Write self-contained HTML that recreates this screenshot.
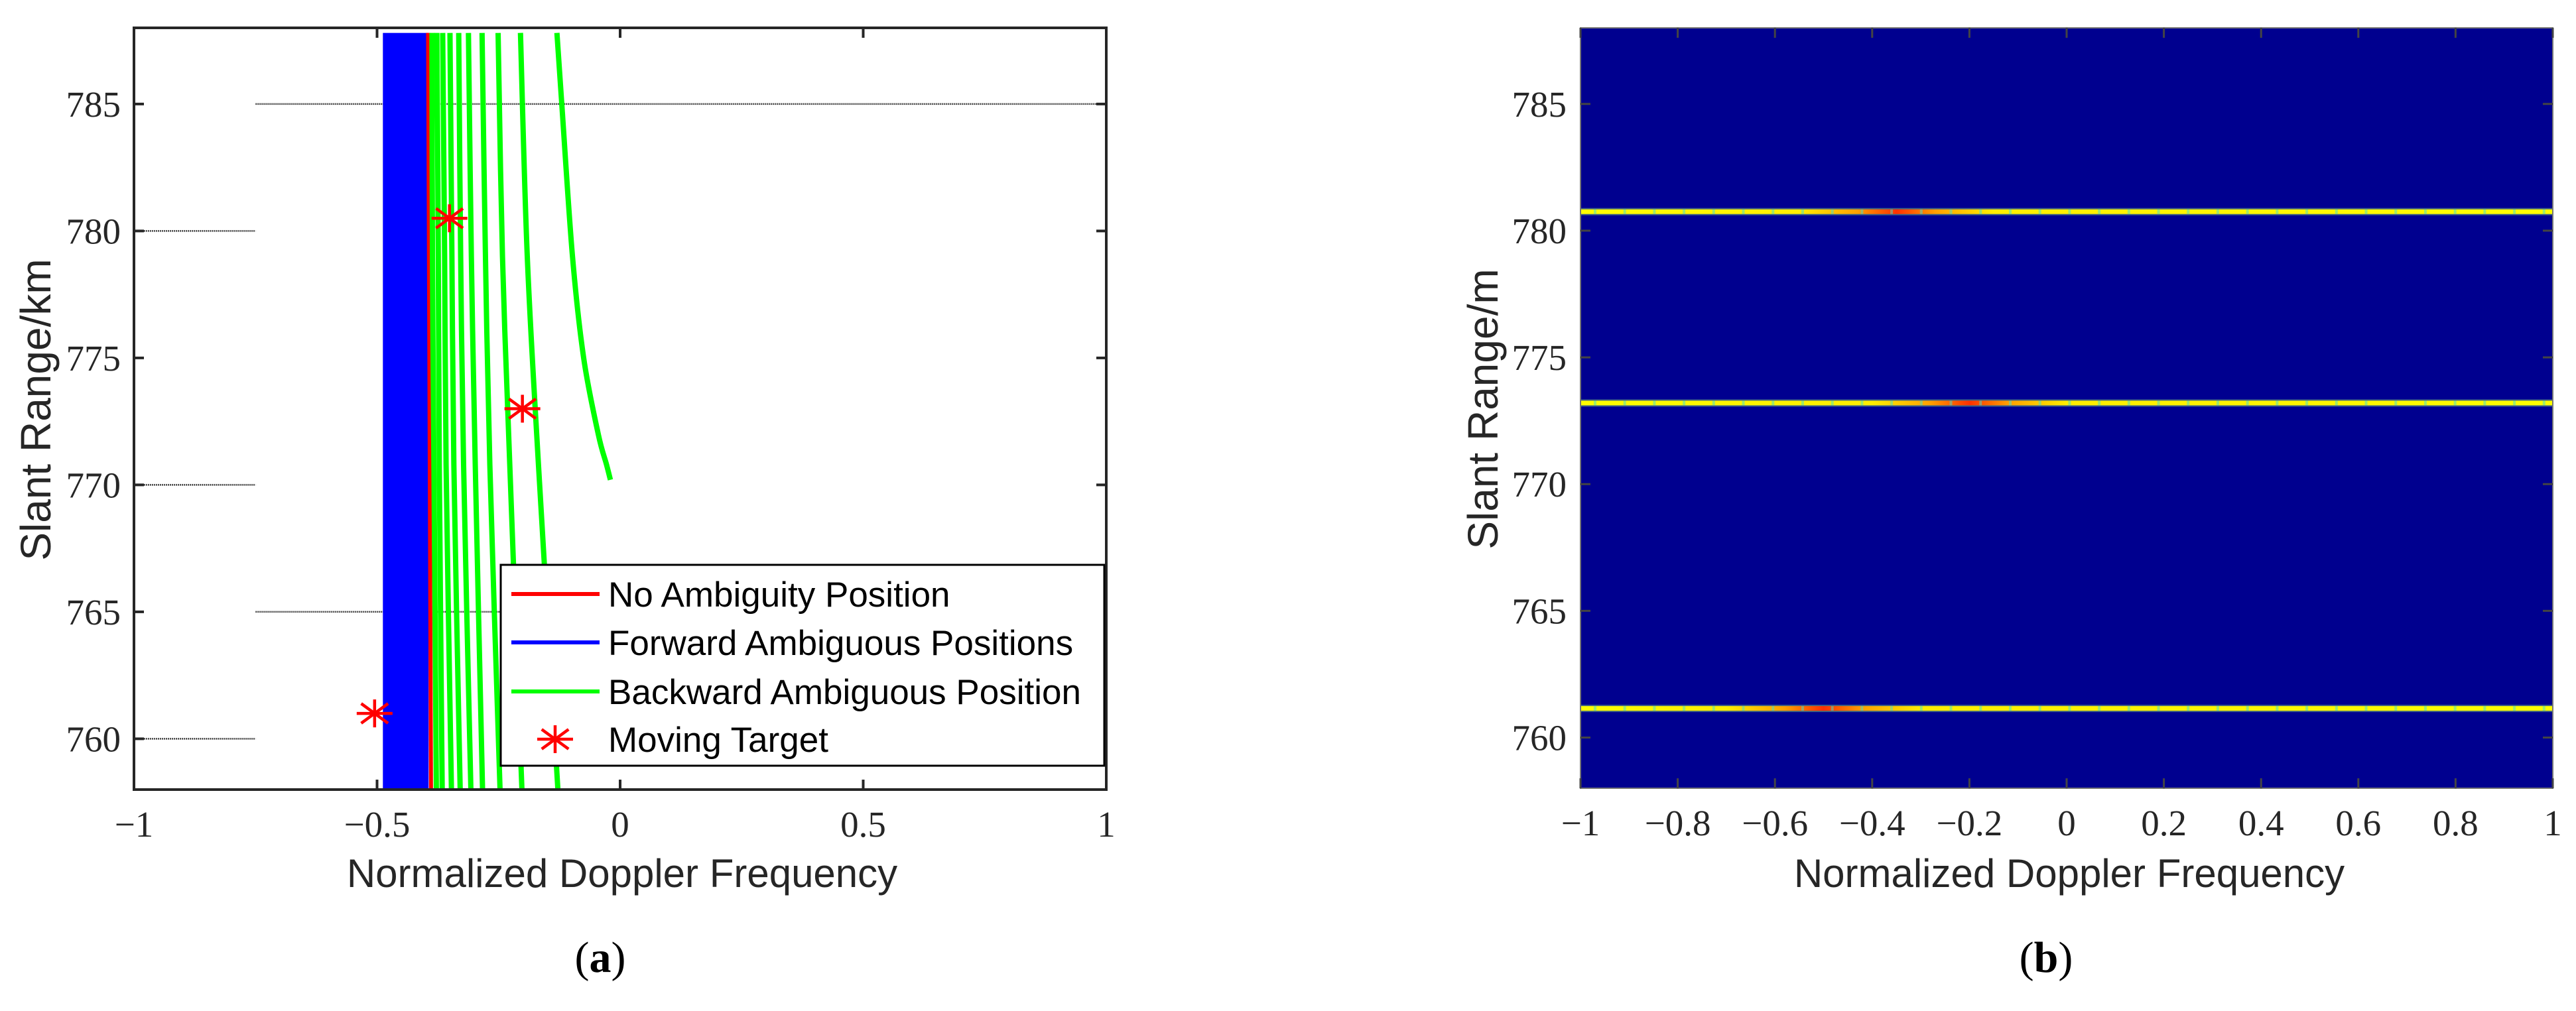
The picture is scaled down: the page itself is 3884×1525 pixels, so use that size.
<!DOCTYPE html>
<html><head><meta charset="utf-8">
<style>
html,body{margin:0;padding:0;background:#fff;}
svg{display:block;}
.tk{font-family:"Liberation Serif",serif;font-size:55px;fill:#262626;}
.ttl{font-family:"Liberation Sans",sans-serif;font-size:60px;fill:#262626;}
.ytl{font-family:"Liberation Sans",sans-serif;font-size:64px;fill:#262626;}
.lg{font-family:"Liberation Sans",sans-serif;font-size:53px;fill:#000;}
.cap{font-family:"Liberation Serif",serif;font-size:66px;fill:#000;}
</style></head>
<body>
<svg id="fig" width="3884" height="1525" viewBox="0 0 3884 1525" xmlns="http://www.w3.org/2000/svg">
<defs>
<clipPath id="clipA"><rect x="202" y="42" width="1466" height="1149"/></clipPath>
</defs>
<g id="panelA"></g>
<g id="panelB"></g>
<text class="cap" x="905" y="1466" text-anchor="middle">(<tspan font-weight="bold">a</tspan>)</text>
<text class="cap" x="3085" y="1466" text-anchor="middle">(<tspan font-weight="bold">b</tspan>)</text>
</svg>
<script>
// ---- Panel (a) data ----
const xTicksA = [-1, -0.5, 0, 0.5, 1];
const xTickLabelsA = ["\u22121", "\u22120.5", "0", "0.5", "1"];
const yTicks = [760, 765, 770, 775, 780, 785];
const forwardBand = [-0.488, -0.394];
const bandRange = [758, 787.8];
const noAmbX = [-0.389, -0.395];
const greenLevels = [758, 770.8, 779, 787.8];
const greenC1 = [-0.378, -0.383, -0.386, -0.387];
const greenC2 = [-0.366, -0.372, -0.374, -0.377];
const greenC3 = [-0.347, -0.358, -0.361, -0.365];
const greenC4 = [-0.329, -0.342, -0.346, -0.350];
const greenC5 = [-0.307, -0.322, -0.328, -0.332];
const greenC6 = [-0.283, -0.298, -0.306, -0.312];
const greenC7 = [-0.247, -0.268, -0.277, -0.284];
const greenC8 = [-0.202, -0.227, -0.242, -0.251];
const greenC9 = [-0.128, -0.168, -0.191, -0.205];
const lastLevels = [770.2, 770.8, 772, 775, 779, 785, 787.8];
const lastX = [-0.02, -0.028, -0.045, -0.075, -0.098, -0.120, -0.130];
const targetX = [-0.351, -0.201, -0.505];
const targetY = [780.5, 773.0, 761.0];
// ---- Panel (b) data ----
const xTicksB = [-1, -0.8, -0.6, -0.4, -0.2, 0, 0.2, 0.4, 0.6, 0.8, 1];
const xTickLabelsB = ["\u22121","\u22120.8","\u22120.6","\u22120.4","\u22120.2","0","0.2","0.4","0.6","0.8","1"];
const stripeRange = [780.75, 773.2, 761.15];
const stripePeak = [-0.35, -0.2, -0.5];

const NS = "http://www.w3.org/2000/svg";
function mk(tag, attrs, parent){const e=document.createElementNS(NS,tag);for(const k in attrs)e.setAttribute(k,attrs[k]);parent.appendChild(e);return e;}
const XA = v => 202 + (v + 1) * 733;
const YA = r => 1191 - (r - 758) * 38.3;
const XB = v => 2383 + (v + 1) * 733;
const YB = r => 1189 - (r - 758) * 38.23;

function smoothPath(pts){
  let d = "M" + pts[0][0] + "," + pts[0][1];
  for (let i = 0; i < pts.length - 1; i++) {
    const p0 = pts[Math.max(0,i-1)], p1 = pts[i], p2 = pts[i+1], p3 = pts[Math.min(pts.length-1,i+2)];
    const c1x = p1[0] + (p2[0]-p0[0])/6, c1y = p1[1] + (p2[1]-p0[1])/6;
    const c2x = p2[0] - (p3[0]-p1[0])/6, c2y = p2[1] - (p3[1]-p1[1])/6;
    d += " C" + c1x + "," + c1y + " " + c2x + "," + c2y + " " + p2[0] + "," + p2[1];
  }
  return d;
}

// ===== Panel A =====
const A = document.getElementById('panelA');
const bg = mk('rect',{x:202,y:42,width:1466,height:1149,fill:'#fff'},A);


const gridA = mk('g',{},A);


yTicks.forEach(r=>{
  if (r === 775) return;
  const right = (r === 785 || r === 765);
  const l = mk('line',{x1: right?XA(-0.75):XA(-1), x2: right?XA(1):XA(-0.75), y1:YA(r), y2:YA(r), stroke:'#444', 'stroke-width':2.5, 'stroke-dasharray':'2 1'},gridA);
  
  
});
const dataA = mk('g',{'clip-path':'url(#clipA)'},A);


const band = mk('rect',{x:XA(forwardBand[0]),y:YA(bandRange[1]),width:XA(forwardBand[1])-XA(forwardBand[0]),height:YA(bandRange[0])-YA(bandRange[1]),fill:'#0000ff'},dataA);


const redL = mk('line',{x1:XA(noAmbX[0]),y1:YA(bandRange[0]),x2:XA(noAmbX[1]),y2:YA(bandRange[1]),stroke:'#ff0000','stroke-width':6},dataA);


[greenC1,greenC2,greenC3,greenC4,greenC5,greenC6,greenC7,greenC8,greenC9].forEach((c,i)=>{
  const pts = c.map((v,j)=>[XA(v), YA(greenLevels[j])]);
  const p = mk('path',{d:smoothPath(pts),fill:'none',stroke:'#00ff00','stroke-width':8},dataA);
  
  
});
{
  const pts = lastX.map((v,j)=>[XA(v), YA(lastLevels[j])]);
  const p = mk('path',{d:smoothPath(pts),fill:'none',stroke:'#00ff00','stroke-width':8},dataA);
  
  
}
function star(g,cx,cy,s){
  mk('line',{x1:cx-s,y1:cy,x2:cx+s,y2:cy},g);
  mk('line',{x1:cx,y1:cy-s*0.78,x2:cx,y2:cy+s*0.78},g);
  mk('line',{x1:cx-s*0.75,y1:cy-s*0.55,x2:cx+s*0.75,y2:cy+s*0.55},g);
  mk('line',{x1:cx-s*0.75,y1:cy+s*0.55,x2:cx+s*0.75,y2:cy-s*0.55},g);
}
targetX.forEach((v,i)=>{
  const g = mk('g',{stroke:'#ff0000','stroke-width':4.5},A);
  
  
  star(g,XA(v),YA(targetY[i]),27);
});
const axA = mk('g',{stroke:'#262626','stroke-width':4,fill:'none'},A);


mk('rect',{x:202,y:42,width:1466,height:1149},axA);
xTicksA.forEach((v,i)=>{
  mk('line',{x1:XA(v),x2:XA(v),y1:1191,y2:1176},axA);
  mk('line',{x1:XA(v),x2:XA(v),y1:42,y2:57},axA);
  const t = mk('text',{class:'tk',x:XA(v),y:1262,'text-anchor':'middle'},A);
  t.textContent = xTickLabelsA[i];
  
  
});
yTicks.forEach(r=>{
  mk('line',{x1:202,x2:217,y1:YA(r),y2:YA(r)},axA);
  mk('line',{x1:1668,x2:1653,y1:YA(r),y2:YA(r)},axA);
  const t = mk('text',{class:'tk',x:182,y:YA(r)+19,'text-anchor':'end'},A);
  t.textContent = r;
  
  
});
const lg = mk('g',{},A);


mk('rect',{x:755,y:852,width:910,height:303,fill:'#fff',stroke:'#000','stroke-width':3},lg);
const legendItems = [["No Ambiguity Position","#ff0000","line"],["Forward Ambiguous Positions","#0000ff","line"],["Backward Ambiguous Position","#00ff00","line"],["Moving Target","#ff0000","star"]];
const legY = [896, 969, 1043, 1115];
legendItems.forEach((it,i)=>{
  const e = mk('g',{},lg);
  
  
  if (it[2]==='line') mk('line',{x1:771,x2:904,y1:legY[i],y2:legY[i],stroke:it[1],'stroke-width':6},e);
  else { const g=mk('g',{stroke:it[1],'stroke-width':4.5},e); star(g,837,legY[i],27); }
  const t = mk('text',{class:'lg',x:917,y:legY[i]+19},e);
  t.textContent = it[0];
});
const xtA = mk('text',{class:'ttl',x:938,y:1338,'text-anchor':'middle'},A);
xtA.textContent = 'Normalized Doppler Frequency';


const ytA = mk('text',{class:'ytl',x:0,y:0,'text-anchor':'middle',transform:'translate(76,618) rotate(-90)'},A);
ytA.textContent = 'Slant Range/km';



// ===== Panel B =====
const B = document.getElementById('panelB');
const defs = document.querySelector('defs');
const hm = mk('rect',{x:2383,y:42,width:1466,height:1147,fill:'#00008f'},B);


stripeRange.forEach((r,i)=>{
  const gid = 'gr'+i;
  const lgr = mk('linearGradient',{id:gid,x1:XB(-1),x2:XB(1),y1:0,y2:0,gradientUnits:'userSpaceOnUse'},defs);
  const pk = (stripePeak[i]+1)/2;
  const stops = [[0,'#ffff00'],[Math.max(0,pk-0.1),'#ffee00'],[Math.max(0,pk-0.04),'#ffa000'],[pk,'#ff3000'],[Math.min(1,pk+0.04),'#ffa000'],[Math.min(1,pk+0.1),'#ffee00'],[1,'#ffff00']];
  stops.forEach(s=>mk('stop',{offset:s[0],'stop-color':s[1]},lgr));
  const y = YB(r);
  const g = mk('g',{},B);
  
  
  mk('rect',{x:2383,y:y-5.5,width:1466,height:11,fill:'#5a8a7a',opacity:0.7},g);
  mk('rect',{x:2383,y:y-3.5,width:1466,height:7,fill:'url(#'+gid+')'},g);
  for (let xv = -0.97; xv < 1; xv += 0.061) {
    mk('rect',{x:XB(xv)-2,y:y-3.5,width:4,height:7,fill:'#40e0d0',opacity:0.5},g);
  }
});
const axB = mk('g',{stroke:'#444','stroke-width':2,fill:'none'},B);


mk('rect',{x:2383,y:42,width:1466,height:1147,stroke:'#777'},axB);
xTicksB.forEach((v,i)=>{
  mk('line',{x1:XB(v),x2:XB(v),y1:1189,y2:1174,'stroke-width':3},axB);
  mk('line',{x1:XB(v),x2:XB(v),y1:42,y2:57,'stroke-width':3},axB);
  const t = mk('text',{class:'tk',x:XB(v),y:1260,'text-anchor':'middle'},B);
  t.textContent = xTickLabelsB[i];
  
  
});
yTicks.forEach(r=>{
  mk('line',{x1:2383,x2:2398,y1:YB(r),y2:YB(r),'stroke-width':3},axB);
  mk('line',{x1:3849,x2:3834,y1:YB(r),y2:YB(r),'stroke-width':3},axB);
  const t = mk('text',{class:'tk',x:2362,y:YB(r)+19,'text-anchor':'end'},B);
  t.textContent = r;
  
  
});
const xtB = mk('text',{class:'ttl',x:3120,y:1338,'text-anchor':'middle'},B);
xtB.textContent = 'Normalized Doppler Frequency';


const ytB = mk('text',{class:'ytl',x:0,y:0,'text-anchor':'middle',transform:'translate(2258,617) rotate(-90)'},B);
ytB.textContent = 'Slant Range/m';


</script>
</body></html>
